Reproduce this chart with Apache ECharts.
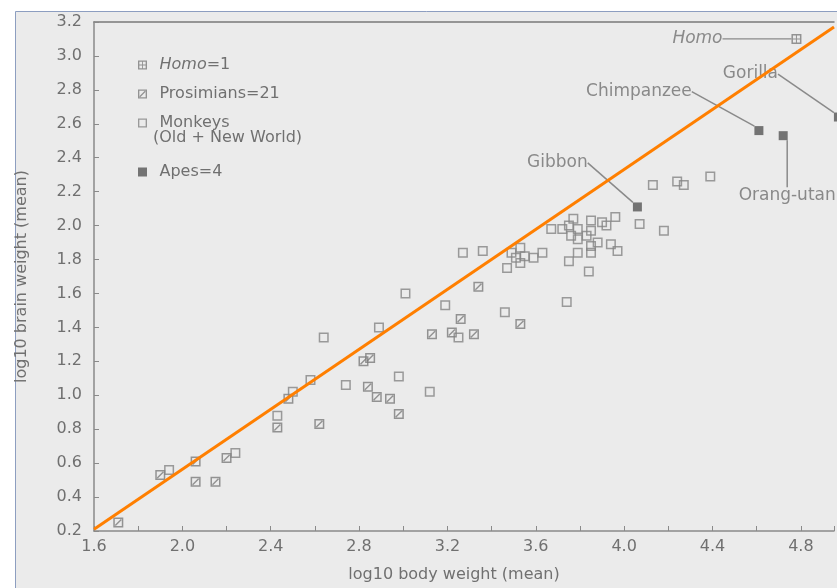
<!DOCTYPE html>
<html>
<head>
<meta charset="utf-8">
<script src="https://cdn.jsdelivr.net/npm/echarts@6/dist/echarts.min.js"></script>
<style>
html, body { margin: 0; padding: 0; background: #fff; }
#main { width: 837px; height: 588px; }
</style>
</head>
<body>
<div id="main"></div>
<script>
// log10 body weight / log10 brain weight
var homoPoints = [[4.78, 3.10]];
var prosimianPoints = [
    [1.71, 0.25], [1.90, 0.53], [2.06, 0.61], [2.06, 0.49], [2.15, 0.49],
    [2.20, 0.63], [2.82, 1.20], [2.85, 1.22], [2.48, 0.98], [2.43, 0.81],
    [2.62, 0.83], [2.84, 1.05], [2.88, 0.99], [2.94, 0.98], [2.98, 0.89],
    [3.34, 1.64], [3.26, 1.45], [3.13, 1.36], [3.22, 1.37], [3.32, 1.36],
    [3.53, 1.42]
];
var monkeyPoints = [
    [1.94, 0.56], [2.24, 0.66], [2.64, 1.34], [2.89, 1.40], [2.98, 1.11],
    [2.58, 1.09], [2.50, 1.02], [2.43, 0.88], [2.74, 1.06], [3.27, 1.84],
    [3.36, 1.85], [3.01, 1.60], [3.19, 1.53], [3.25, 1.34], [3.46, 1.49],
    [3.12, 1.02], [3.47, 1.75], [3.49, 1.84], [3.53, 1.87], [3.51, 1.81],
    [3.53, 1.78], [3.55, 1.82], [3.59, 1.81], [3.63, 1.84], [3.67, 1.98],
    [3.72, 1.98], [3.75, 2.00], [3.77, 2.04], [3.79, 1.98], [3.76, 1.94],
    [3.79, 1.92], [3.83, 1.94], [3.85, 1.97], [3.85, 2.03], [3.90, 2.02],
    [3.92, 2.00], [3.96, 2.05], [3.88, 1.90], [3.85, 1.88], [3.85, 1.84],
    [3.79, 1.84], [3.94, 1.89], [3.97, 1.85], [3.75, 1.79], [3.84, 1.73],
    [3.74, 1.55], [4.07, 2.01], [4.18, 1.97], [4.13, 2.24], [4.24, 2.26],
    [4.27, 2.24], [4.39, 2.29]
];
var apeNames = ['Gibbon', 'Chimpanzee', 'Orang-utan', 'Gorilla'];
var apePoints = [[4.06, 2.11], [4.61, 2.56], [4.72, 2.53], [4.97, 2.64]];
var fitLine = [[1.6, 0.21], [4.95, 3.17]];
var xLabelValues = [1.6, 2.0, 2.4, 2.8, 3.2, 3.6, 4.0, 4.4, 4.8];

// annotation offsets (label from point, px)
var apeOffsets = {
    'Gibbon': [-80, -44],
    'Chimpanzee': [-120, -39],
    'Orang-utan': [4, 60],
    'Gorilla': [-88, -43]
};

var grey = '#707070';
var font = 'DejaVu Sans';
var ring = 'M0,0 L20,0 L20,20 L0,20 Z M3,3 L3,17 L17,17 L17,3 Z';
var symbolMonkey = 'path://' + ring;
var symbolProsimian = 'path://' + ring + ' M3,15 L15,3 L17,5 L5,17 Z';
var symbolHomo = 'path://' + ring + ' M9,3 L11,3 L11,17 L9,17 Z M3,9 L17,9 L17,11 L3,11 Z';
var symbolApe = 'path://M0,0 L20,0 L20,20 L0,20 Z';

var dom = echarts.init(document.getElementById('main'));

var legendText = {
    color: grey,
    fontFamily: font,
    fontSize: 16,
    lineHeight: 20,
    rich: {
        i: { fontStyle: 'italic', color: grey, fontFamily: font, fontSize: 16 }
    }
};

var option = {
    backgroundColor: '#ffffff',
    animation: false,
    graphic: [{
        type: 'rect',
        z: -10,
        shape: { x: 15.5, y: 11.5, width: 900, height: 700 },
        style: { fill: '#ebebeb', stroke: '#8d9ec0', lineWidth: 1 }
    }, {
        type: 'text',
        left: 153,
        top: 130,
        style: {
            text: '(Old + New World)',
            fill: grey,
            font: '16px "DejaVu Sans"'
        }
    }],
    grid: {
        left: 94,
        right: 1,
        top: 22,
        bottom: 55
    },
    legend: [{
        orient: 'vertical',
        left: 133,
        top: 50,
        itemWidth: 24,
        itemHeight: 9,
        itemGap: 9,
        selectedMode: false,
        data: ['Homo', 'Prosimians', 'Monkeys'],
        formatter: function (name) {
            if (name === 'Homo') return '{i|Homo}=1';
            if (name === 'Prosimians') return 'Prosimians=21';
            return 'Monkeys';
        },
        textStyle: legendText
    }, {
        orient: 'vertical',
        left: 133,
        top: 157,
        itemWidth: 24,
        itemHeight: 9,
        selectedMode: false,
        data: ['Apes'],
        formatter: 'Apes=4',
        textStyle: legendText
    }],
    xAxis: [{
        type: 'value',
        min: 1.6,
        max: 4.95,
        interval: 0.2,
        name: 'log10 body weight (mean)',
        nameLocation: 'middle',
        nameGap: 36,
        nameTextStyle: { color: grey, fontFamily: font, fontSize: 16, padding: [0, 20, 0, 0] },
        splitLine: { show: false },
        axisLine: { lineStyle: { color: '#8a8a8a', width: 1.5 } },
        axisTick: { inside: true, length: 5, lineStyle: { color: '#8a8a8a' } },
        axisLabel: {
            color: grey,
            fontFamily: font,
            fontSize: 16,
            margin: 8,
            formatter: function (v) {
                for (var i = 0; i < xLabelValues.length; i++) {
                    if (Math.abs(xLabelValues[i] - v) < 1e-6) return xLabelValues[i].toFixed(1);
                }
                return '';
            }
        }
    }, {
        type: 'value',
        position: 'top',
        min: 1.6,
        max: 4.95,
        axisLine: { show: true, lineStyle: { color: '#7a7a7a', width: 1.5 } },
        axisTick: { show: false },
        axisLabel: { show: false },
        splitLine: { show: false }
    }],
    yAxis: {
        type: 'value',
        min: 0.2,
        max: 3.2,
        interval: 0.2,
        name: 'log10 brain weight (mean)',
        nameLocation: 'middle',
        nameGap: 64,
        nameTextStyle: { color: grey, fontFamily: font, fontSize: 16 },
        splitLine: { show: false },
        axisLine: { show: true, lineStyle: { color: '#8a8a8a', width: 1.5 } },
        axisTick: { inside: true, length: 5, lineStyle: { color: '#8a8a8a' } },
        axisLabel: {
            color: grey,
            fontFamily: font,
            fontSize: 16,
            margin: 12,
            formatter: function (v) { return v.toFixed(1); }
        }
    },
    series: [{
        name: 'Homo',
        type: 'scatter',
        symbol: symbolHomo,
        symbolSize: 10,
        itemStyle: { color: '#7c7c7c' },
        data: homoPoints,
        label: {
            show: true,
            position: 'inside',
            formatter: 'Homo',
            color: grey,
            fontFamily: font,
            fontSize: 17,
            fontStyle: 'italic'
        },
        labelLayout: { dx: -99, dy: 0 },
        labelLine: { show: true, lineStyle: { color: '#8a8a8a', width: 1.2 } }
    }, {
        name: 'Prosimians',
        type: 'scatter',
        symbol: symbolProsimian,
        symbolSize: 10,
        itemStyle: { color: '#7c7c7c' },
        data: prosimianPoints
    }, {
        name: 'Monkeys',
        type: 'scatter',
        symbol: symbolMonkey,
        symbolSize: 10,
        itemStyle: { color: '#858585' },
        data: monkeyPoints
    }, {
        name: 'Apes',
        type: 'scatter',
        symbol: symbolApe,
        symbolSize: 9,
        clip: false,
        itemStyle: { color: '#555555' },
        data: apePoints.map(function (p, i) {
            return { name: apeNames[i], value: p };
        }),
        label: {
            show: true,
            position: 'inside',
            formatter: '{b}',
            color: grey,
            fontFamily: font,
            fontSize: 17
        },
        labelLayout: function (params) {
            var o = apeOffsets[apeNames[params.dataIndex]];
            return { dx: o[0], dy: o[1] };
        },
        labelLine: { show: true, lineStyle: { color: '#8a8a8a', width: 1.5 } }
    }, {
        name: 'fit',
        type: 'line',
        z: 5,
        silent: true,
        symbol: 'none',
        data: fitLine,
        lineStyle: { color: '#ff7f00', width: 3 }
    }]
};

dom.setOption(option);
</script>
</body>
</html>
